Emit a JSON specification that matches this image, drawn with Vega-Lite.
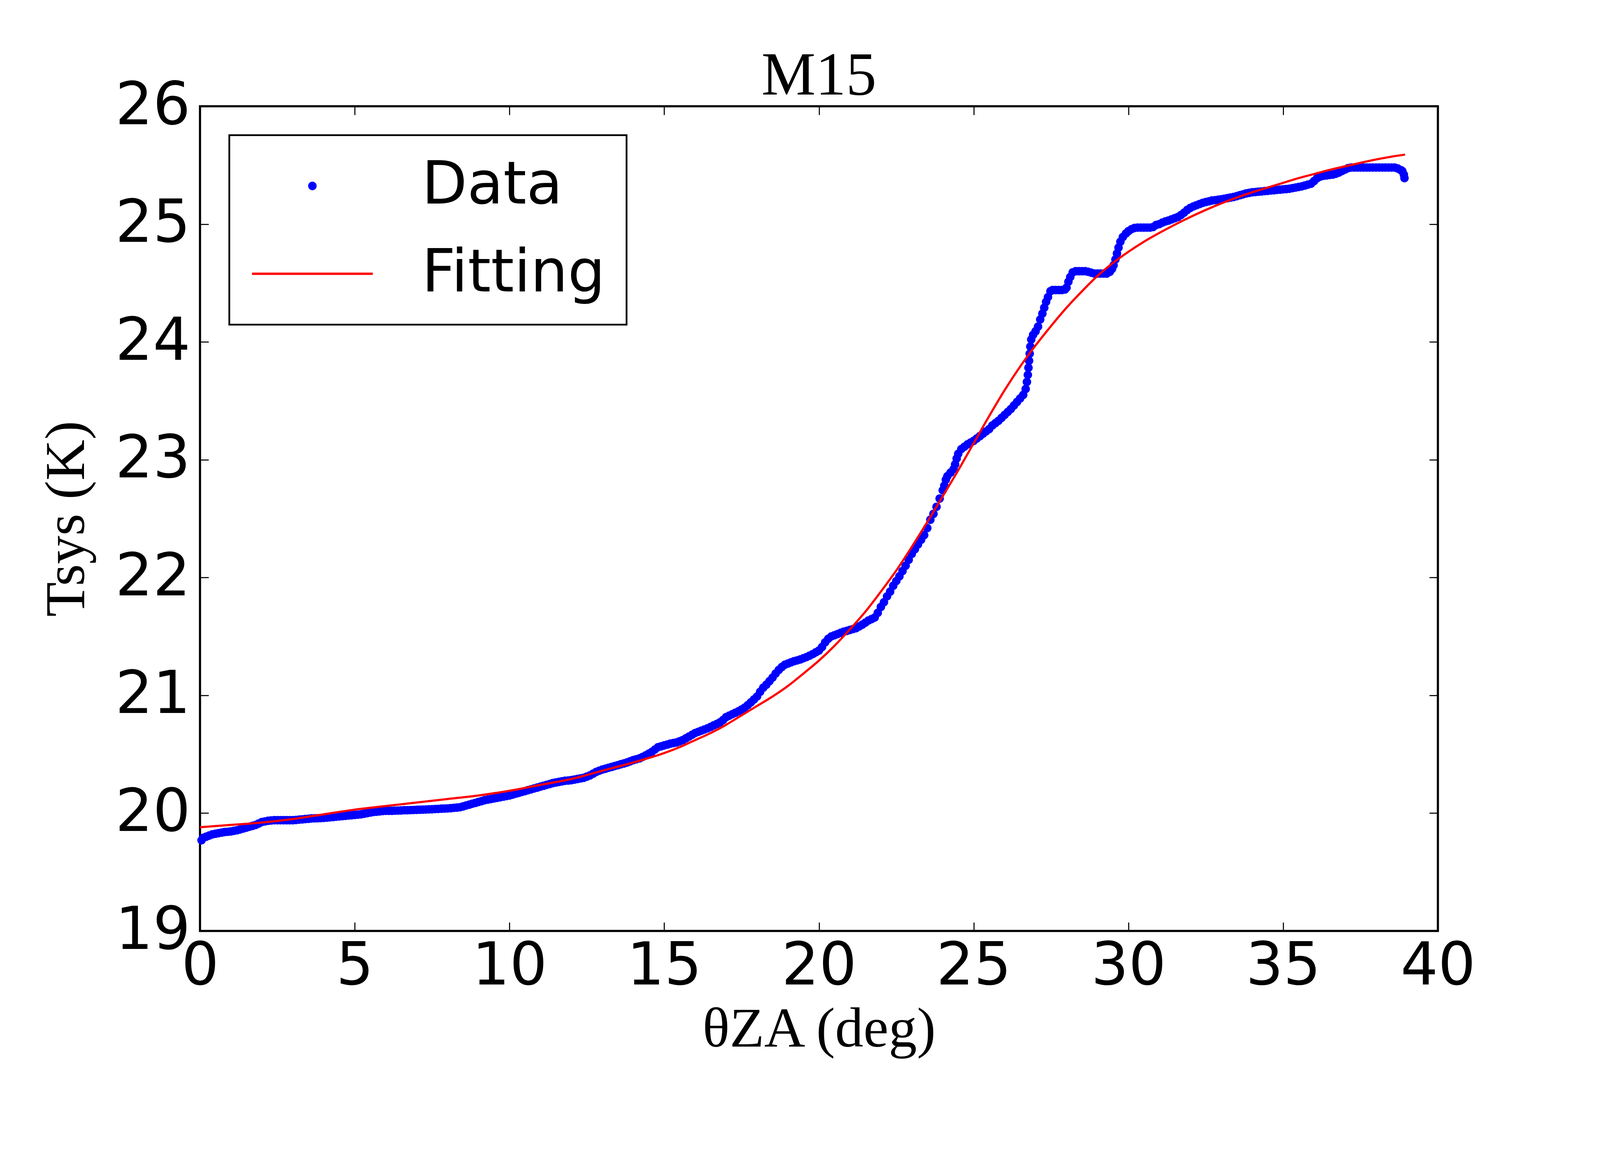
{
  "$schema": "https://vega.github.io/schema/vega-lite/v6.json",
  "description": "M15 system temperature against zenith angle, data and fitting",
  "autosize": {"type": "none"},
  "padding": {"left": 512, "top": 272, "right": 410, "bottom": 344},
  "width": 3169,
  "height": 2111,
  "background": "white",
  "title": {
    "text": "M15",
    "font": "Liberation Serif",
    "fontSize": 156,
    "fontWeight": "normal",
    "color": "black",
    "anchor": "middle",
    "baseline": "alphabetic",
    "offset": -202
  },
  "datasets": {
    "data": [
      {"za": 0.05, "tsys": 19.77}, {"za": 0.1, "tsys": 19.79}, {"za": 0.2, "tsys": 19.80}, {"za": 0.3, "tsys": 19.81},
      {"za": 0.4, "tsys": 19.82}, {"za": 0.5, "tsys": 19.825}, {"za": 0.6, "tsys": 19.83}, {"za": 0.7, "tsys": 19.835},
      {"za": 0.8, "tsys": 19.84}, {"za": 0.9, "tsys": 19.842}, {"za": 1.0, "tsys": 19.845}, {"za": 1.1, "tsys": 19.85},
      {"za": 1.2, "tsys": 19.855}, {"za": 1.3, "tsys": 19.862}, {"za": 1.4, "tsys": 19.87}, {"za": 1.5, "tsys": 19.877},
      {"za": 1.6, "tsys": 19.885}, {"za": 1.7, "tsys": 19.892}, {"za": 1.8, "tsys": 19.90}, {"za": 1.9, "tsys": 19.912},
      {"za": 2.0, "tsys": 19.925}, {"za": 2.1, "tsys": 19.93}, {"za": 2.2, "tsys": 19.935}, {"za": 2.3, "tsys": 19.938},
      {"za": 2.4, "tsys": 19.94}, {"za": 2.5, "tsys": 19.94}, {"za": 2.6, "tsys": 19.94}, {"za": 2.7, "tsys": 19.94},
      {"za": 2.8, "tsys": 19.94}, {"za": 2.9, "tsys": 19.94}, {"za": 3.0, "tsys": 19.94}, {"za": 3.1, "tsys": 19.942},
      {"za": 3.2, "tsys": 19.945}, {"za": 3.3, "tsys": 19.947}, {"za": 3.4, "tsys": 19.95}, {"za": 3.5, "tsys": 19.952},
      {"za": 3.6, "tsys": 19.955}, {"za": 3.7, "tsys": 19.956}, {"za": 3.8, "tsys": 19.957}, {"za": 3.9, "tsys": 19.958},
      {"za": 4.0, "tsys": 19.96}, {"za": 4.1, "tsys": 19.962}, {"za": 4.2, "tsys": 19.965}, {"za": 4.3, "tsys": 19.967},
      {"za": 4.4, "tsys": 19.97}, {"za": 4.5, "tsys": 19.972}, {"za": 4.6, "tsys": 19.975}, {"za": 4.7, "tsys": 19.977},
      {"za": 4.8, "tsys": 19.98}, {"za": 4.9, "tsys": 19.982}, {"za": 5.0, "tsys": 19.985}, {"za": 5.1, "tsys": 19.987},
      {"za": 5.2, "tsys": 19.99}, {"za": 5.3, "tsys": 19.995}, {"za": 5.4, "tsys": 20.0}, {"za": 5.5, "tsys": 20.005},
      {"za": 5.6, "tsys": 20.01}, {"za": 5.7, "tsys": 20.012}, {"za": 5.8, "tsys": 20.015}, {"za": 5.9, "tsys": 20.018},
      {"za": 6.0, "tsys": 20.02}, {"za": 6.1, "tsys": 20.02}, {"za": 6.2, "tsys": 20.02}, {"za": 6.3, "tsys": 20.021},
      {"za": 6.4, "tsys": 20.022}, {"za": 6.5, "tsys": 20.023}, {"za": 6.6, "tsys": 20.025}, {"za": 6.7, "tsys": 20.025},
      {"za": 6.8, "tsys": 20.026}, {"za": 6.9, "tsys": 20.027}, {"za": 7.0, "tsys": 20.028}, {"za": 7.1, "tsys": 20.029},
      {"za": 7.2, "tsys": 20.03}, {"za": 7.3, "tsys": 20.031}, {"za": 7.4, "tsys": 20.032}, {"za": 7.5, "tsys": 20.033},
      {"za": 7.6, "tsys": 20.035}, {"za": 7.7, "tsys": 20.036}, {"za": 7.8, "tsys": 20.038}, {"za": 7.9, "tsys": 20.039},
      {"za": 8.0, "tsys": 20.04}, {"za": 8.1, "tsys": 20.042}, {"za": 8.2, "tsys": 20.045}, {"za": 8.3, "tsys": 20.047},
      {"za": 8.4, "tsys": 20.05}, {"za": 8.5, "tsys": 20.057}, {"za": 8.6, "tsys": 20.065}, {"za": 8.7, "tsys": 20.072},
      {"za": 8.8, "tsys": 20.08}, {"za": 8.9, "tsys": 20.087}, {"za": 9.0, "tsys": 20.095}, {"za": 9.1, "tsys": 20.102},
      {"za": 9.2, "tsys": 20.11}, {"za": 9.3, "tsys": 20.115}, {"za": 9.4, "tsys": 20.12}, {"za": 9.5, "tsys": 20.125},
      {"za": 9.6, "tsys": 20.13}, {"za": 9.7, "tsys": 20.135}, {"za": 9.8, "tsys": 20.14}, {"za": 9.9, "tsys": 20.145},
      {"za": 10.0, "tsys": 20.15}, {"za": 10.1, "tsys": 20.157}, {"za": 10.2, "tsys": 20.165}, {"za": 10.3, "tsys": 20.172},
      {"za": 10.4, "tsys": 20.18}, {"za": 10.5, "tsys": 20.187}, {"za": 10.6, "tsys": 20.195}, {"za": 10.7, "tsys": 20.202},
      {"za": 10.8, "tsys": 20.21}, {"za": 10.9, "tsys": 20.217}, {"za": 11.0, "tsys": 20.225}, {"za": 11.1, "tsys": 20.232},
      {"za": 11.2, "tsys": 20.24}, {"za": 11.3, "tsys": 20.247}, {"za": 11.4, "tsys": 20.255}, {"za": 11.5, "tsys": 20.26},
      {"za": 11.6, "tsys": 20.265}, {"za": 11.7, "tsys": 20.27}, {"za": 11.8, "tsys": 20.275}, {"za": 11.9, "tsys": 20.277},
      {"za": 12.0, "tsys": 20.28}, {"za": 12.1, "tsys": 20.285}, {"za": 12.2, "tsys": 20.29}, {"za": 12.3, "tsys": 20.295},
      {"za": 12.4, "tsys": 20.30}, {"za": 12.5, "tsys": 20.31}, {"za": 12.6, "tsys": 20.32}, {"za": 12.7, "tsys": 20.335},
      {"za": 12.8, "tsys": 20.35}, {"za": 12.9, "tsys": 20.36}, {"za": 13.0, "tsys": 20.37}, {"za": 13.1, "tsys": 20.377},
      {"za": 13.2, "tsys": 20.385}, {"za": 13.3, "tsys": 20.392}, {"za": 13.4, "tsys": 20.40}, {"za": 13.5, "tsys": 20.407},
      {"za": 13.6, "tsys": 20.415}, {"za": 13.7, "tsys": 20.422}, {"za": 13.8, "tsys": 20.43}, {"za": 13.9, "tsys": 20.44},
      {"za": 14.0, "tsys": 20.45}, {"za": 14.1, "tsys": 20.457}, {"za": 14.2, "tsys": 20.465}, {"za": 14.3, "tsys": 20.477},
      {"za": 14.4, "tsys": 20.49}, {"za": 14.5, "tsys": 20.505}, {"za": 14.6, "tsys": 20.52}, {"za": 14.7, "tsys": 20.54},
      {"za": 14.8, "tsys": 20.56}, {"za": 14.9, "tsys": 20.567}, {"za": 15.0, "tsys": 20.575}, {"za": 15.1, "tsys": 20.582},
      {"za": 15.2, "tsys": 20.59}, {"za": 15.3, "tsys": 20.595}, {"za": 15.4, "tsys": 20.60}, {"za": 15.5, "tsys": 20.61},
      {"za": 15.6, "tsys": 20.62}, {"za": 15.7, "tsys": 20.635}, {"za": 15.8, "tsys": 20.65}, {"za": 15.9, "tsys": 20.665},
      {"za": 16.0, "tsys": 20.68}, {"za": 16.1, "tsys": 20.69}, {"za": 16.2, "tsys": 20.70}, {"za": 16.3, "tsys": 20.71},
      {"za": 16.4, "tsys": 20.72}, {"za": 16.5, "tsys": 20.732}, {"za": 16.6, "tsys": 20.745}, {"za": 16.7, "tsys": 20.757},
      {"za": 16.8, "tsys": 20.77}, {"za": 16.9, "tsys": 20.79}, {"za": 17.0, "tsys": 20.815}, {"za": 17.1, "tsys": 20.827},
      {"za": 17.2, "tsys": 20.84}, {"za": 17.3, "tsys": 20.852}, {"za": 17.4, "tsys": 20.865}, {"za": 17.5, "tsys": 20.88},
      {"za": 17.6, "tsys": 20.895}, {"za": 17.7, "tsys": 20.917}, {"za": 17.8, "tsys": 20.94}, {"za": 17.9, "tsys": 20.965},
      {"za": 18.0, "tsys": 20.99}, {"za": 18.1, "tsys": 21.03}, {"za": 18.2, "tsys": 21.065}, {"za": 18.3, "tsys": 21.09},
      {"za": 18.4, "tsys": 21.12}, {"za": 18.5, "tsys": 21.15}, {"za": 18.6, "tsys": 21.185}, {"za": 18.7, "tsys": 21.215},
      {"za": 18.8, "tsys": 21.24}, {"za": 18.9, "tsys": 21.26}, {"za": 19.0, "tsys": 21.27}, {"za": 19.1, "tsys": 21.28},
      {"za": 19.2, "tsys": 21.29}, {"za": 19.3, "tsys": 21.297}, {"za": 19.4, "tsys": 21.305}, {"za": 19.5, "tsys": 21.315},
      {"za": 19.6, "tsys": 21.325}, {"za": 19.7, "tsys": 21.337}, {"za": 19.8, "tsys": 21.35}, {"za": 19.9, "tsys": 21.365},
      {"za": 20.0, "tsys": 21.38}, {"za": 20.1, "tsys": 21.41}, {"za": 20.2, "tsys": 21.45}, {"za": 20.3, "tsys": 21.48},
      {"za": 20.4, "tsys": 21.50}, {"za": 20.5, "tsys": 21.51}, {"za": 20.6, "tsys": 21.52}, {"za": 20.7, "tsys": 21.53},
      {"za": 20.8, "tsys": 21.54}, {"za": 20.9, "tsys": 21.547}, {"za": 21.0, "tsys": 21.555}, {"za": 21.1, "tsys": 21.562},
      {"za": 21.2, "tsys": 21.57}, {"za": 21.3, "tsys": 21.585}, {"za": 21.4, "tsys": 21.60}, {"za": 21.5, "tsys": 21.617},
      {"za": 21.6, "tsys": 21.635}, {"za": 21.7, "tsys": 21.647}, {"za": 21.8, "tsys": 21.66}, {"za": 21.9, "tsys": 21.70},
      {"za": 22.0, "tsys": 21.75}, {"za": 22.1, "tsys": 21.79}, {"za": 22.2, "tsys": 21.84}, {"za": 22.3, "tsys": 21.88},
      {"za": 22.4, "tsys": 21.93}, {"za": 22.5, "tsys": 21.97}, {"za": 22.6, "tsys": 22.01}, {"za": 22.7, "tsys": 22.055},
      {"za": 22.8, "tsys": 22.10}, {"za": 22.9, "tsys": 22.15}, {"za": 23.0, "tsys": 22.20}, {"za": 23.1, "tsys": 22.24},
      {"za": 23.2, "tsys": 22.28}, {"za": 23.3, "tsys": 22.32}, {"za": 23.4, "tsys": 22.36}, {"za": 23.5, "tsys": 22.42},
      {"za": 23.6, "tsys": 22.49}, {"za": 23.7, "tsys": 22.54}, {"za": 23.8, "tsys": 22.60}, {"za": 23.9, "tsys": 22.67},
      {"za": 24.0, "tsys": 22.74}, {"za": 24.05, "tsys": 22.78}, {"za": 24.1, "tsys": 22.83}, {"za": 24.15, "tsys": 22.86},
      {"za": 24.25, "tsys": 22.89}, {"za": 24.35, "tsys": 22.92}, {"za": 24.4, "tsys": 22.96}, {"za": 24.45, "tsys": 23.01},
      {"za": 24.5, "tsys": 23.05}, {"za": 24.6, "tsys": 23.09}, {"za": 24.7, "tsys": 23.11}, {"za": 24.8, "tsys": 23.13},
      {"za": 24.9, "tsys": 23.145}, {"za": 25.0, "tsys": 23.16}, {"za": 25.1, "tsys": 23.18}, {"za": 25.2, "tsys": 23.20},
      {"za": 25.3, "tsys": 23.22}, {"za": 25.4, "tsys": 23.24}, {"za": 25.5, "tsys": 23.26}, {"za": 25.6, "tsys": 23.29},
      {"za": 25.7, "tsys": 23.31}, {"za": 25.8, "tsys": 23.33}, {"za": 25.9, "tsys": 23.355}, {"za": 26.0, "tsys": 23.38},
      {"za": 26.1, "tsys": 23.405}, {"za": 26.2, "tsys": 23.43}, {"za": 26.3, "tsys": 23.46}, {"za": 26.4, "tsys": 23.49},
      {"za": 26.5, "tsys": 23.52}, {"za": 26.6, "tsys": 23.55}, {"za": 26.68, "tsys": 23.60}, {"za": 26.72, "tsys": 23.66},
      {"za": 26.75, "tsys": 23.72}, {"za": 26.77, "tsys": 23.78}, {"za": 26.79, "tsys": 23.84}, {"za": 26.81, "tsys": 23.90},
      {"za": 26.83, "tsys": 23.96}, {"za": 26.86, "tsys": 24.02}, {"za": 26.92, "tsys": 24.06}, {"za": 27.0, "tsys": 24.09},
      {"za": 27.08, "tsys": 24.13}, {"za": 27.15, "tsys": 24.19}, {"za": 27.22, "tsys": 24.24}, {"za": 27.28, "tsys": 24.29},
      {"za": 27.34, "tsys": 24.34}, {"za": 27.4, "tsys": 24.38}, {"za": 27.48, "tsys": 24.43}, {"za": 27.55, "tsys": 24.44},
      {"za": 27.65, "tsys": 24.44}, {"za": 27.75, "tsys": 24.44}, {"za": 27.85, "tsys": 24.44}, {"za": 27.95, "tsys": 24.445},
      {"za": 28.0, "tsys": 24.46}, {"za": 28.06, "tsys": 24.51}, {"za": 28.12, "tsys": 24.55}, {"za": 28.2, "tsys": 24.59},
      {"za": 28.3, "tsys": 24.60}, {"za": 28.4, "tsys": 24.60}, {"za": 28.5, "tsys": 24.60}, {"za": 28.6, "tsys": 24.60},
      {"za": 28.7, "tsys": 24.595}, {"za": 28.8, "tsys": 24.587}, {"za": 28.9, "tsys": 24.58}, {"za": 29.0, "tsys": 24.58},
      {"za": 29.1, "tsys": 24.58}, {"za": 29.2, "tsys": 24.58}, {"za": 29.3, "tsys": 24.58}, {"za": 29.4, "tsys": 24.595},
      {"za": 29.47, "tsys": 24.62}, {"za": 29.52, "tsys": 24.65}, {"za": 29.58, "tsys": 24.70}, {"za": 29.63, "tsys": 24.75},
      {"za": 29.68, "tsys": 24.80}, {"za": 29.74, "tsys": 24.85}, {"za": 29.82, "tsys": 24.89}, {"za": 29.92, "tsys": 24.92},
      {"za": 30.0, "tsys": 24.94}, {"za": 30.1, "tsys": 24.957}, {"za": 30.2, "tsys": 24.967}, {"za": 30.3, "tsys": 24.97},
      {"za": 30.4, "tsys": 24.97}, {"za": 30.5, "tsys": 24.97}, {"za": 30.6, "tsys": 24.97}, {"za": 30.7, "tsys": 24.97},
      {"za": 30.8, "tsys": 24.975}, {"za": 30.9, "tsys": 24.993}, {"za": 31.0, "tsys": 25.0}, {"za": 31.1, "tsys": 25.013},
      {"za": 31.2, "tsys": 25.023}, {"za": 31.3, "tsys": 25.03}, {"za": 31.4, "tsys": 25.04}, {"za": 31.5, "tsys": 25.05},
      {"za": 31.6, "tsys": 25.06}, {"za": 31.7, "tsys": 25.077}, {"za": 31.8, "tsys": 25.097}, {"za": 31.9, "tsys": 25.12},
      {"za": 32.0, "tsys": 25.137}, {"za": 32.1, "tsys": 25.15}, {"za": 32.2, "tsys": 25.16}, {"za": 32.3, "tsys": 25.17},
      {"za": 32.4, "tsys": 25.18}, {"za": 32.5, "tsys": 25.187}, {"za": 32.6, "tsys": 25.193}, {"za": 32.7, "tsys": 25.20},
      {"za": 32.8, "tsys": 25.203}, {"za": 32.9, "tsys": 25.207}, {"za": 33.0, "tsys": 25.21}, {"za": 33.1, "tsys": 25.215},
      {"za": 33.2, "tsys": 25.22}, {"za": 33.3, "tsys": 25.225}, {"za": 33.4, "tsys": 25.23}, {"za": 33.5, "tsys": 25.237},
      {"za": 33.6, "tsys": 25.245}, {"za": 33.7, "tsys": 25.252}, {"za": 33.8, "tsys": 25.26}, {"za": 33.9, "tsys": 25.265},
      {"za": 34.0, "tsys": 25.27}, {"za": 34.1, "tsys": 25.272}, {"za": 34.2, "tsys": 25.275}, {"za": 34.3, "tsys": 25.277},
      {"za": 34.4, "tsys": 25.28}, {"za": 34.5, "tsys": 25.282}, {"za": 34.6, "tsys": 25.285}, {"za": 34.7, "tsys": 25.287},
      {"za": 34.8, "tsys": 25.29}, {"za": 34.9, "tsys": 25.292}, {"za": 35.0, "tsys": 25.295}, {"za": 35.1, "tsys": 25.297},
      {"za": 35.2, "tsys": 25.30}, {"za": 35.3, "tsys": 25.305}, {"za": 35.4, "tsys": 25.31}, {"za": 35.5, "tsys": 25.315},
      {"za": 35.6, "tsys": 25.32}, {"za": 35.7, "tsys": 25.327}, {"za": 35.8, "tsys": 25.335}, {"za": 35.9, "tsys": 25.343},
      {"za": 36.0, "tsys": 25.365}, {"za": 36.1, "tsys": 25.39}, {"za": 36.2, "tsys": 25.403}, {"za": 36.3, "tsys": 25.41},
      {"za": 36.4, "tsys": 25.413}, {"za": 36.5, "tsys": 25.417}, {"za": 36.6, "tsys": 25.42}, {"za": 36.7, "tsys": 25.427},
      {"za": 36.8, "tsys": 25.437}, {"za": 36.9, "tsys": 25.45}, {"za": 37.0, "tsys": 25.463}, {"za": 37.1, "tsys": 25.475},
      {"za": 37.2, "tsys": 25.48}, {"za": 37.3, "tsys": 25.48}, {"za": 37.4, "tsys": 25.48}, {"za": 37.5, "tsys": 25.48},
      {"za": 37.6, "tsys": 25.48}, {"za": 37.7, "tsys": 25.48}, {"za": 37.8, "tsys": 25.48}, {"za": 37.9, "tsys": 25.48},
      {"za": 38.0, "tsys": 25.48}, {"za": 38.1, "tsys": 25.48}, {"za": 38.2, "tsys": 25.48}, {"za": 38.3, "tsys": 25.48},
      {"za": 38.4, "tsys": 25.48}, {"za": 38.5, "tsys": 25.48}, {"za": 38.6, "tsys": 25.48}, {"za": 38.7, "tsys": 25.472},
      {"za": 38.8, "tsys": 25.458}, {"za": 38.85, "tsys": 25.45}, {"za": 38.9, "tsys": 25.42}, {"za": 38.92, "tsys": 25.39}
    ],
    "fit": [
      {"za": 0, "tsys": 19.88}, {"za": 1, "tsys": 19.90}, {"za": 2, "tsys": 19.92}, {"za": 3, "tsys": 19.95},
      {"za": 4, "tsys": 19.99}, {"za": 5, "tsys": 20.03}, {"za": 6, "tsys": 20.06}, {"za": 7, "tsys": 20.09},
      {"za": 8, "tsys": 20.12}, {"za": 9, "tsys": 20.15}, {"za": 10, "tsys": 20.19}, {"za": 11, "tsys": 20.24},
      {"za": 12, "tsys": 20.29}, {"za": 13, "tsys": 20.36}, {"za": 14, "tsys": 20.43}, {"za": 15, "tsys": 20.51},
      {"za": 15.5, "tsys": 20.56}, {"za": 16, "tsys": 20.62}, {"za": 16.5, "tsys": 20.68}, {"za": 17, "tsys": 20.75},
      {"za": 17.5, "tsys": 20.83}, {"za": 18, "tsys": 20.91}, {"za": 18.5, "tsys": 20.99}, {"za": 19, "tsys": 21.08},
      {"za": 19.5, "tsys": 21.185}, {"za": 20, "tsys": 21.295}, {"za": 20.5, "tsys": 21.42}, {"za": 21, "tsys": 21.56},
      {"za": 21.5, "tsys": 21.71}, {"za": 22, "tsys": 21.88}, {"za": 22.5, "tsys": 22.06}, {"za": 23, "tsys": 22.26},
      {"za": 23.5, "tsys": 22.47}, {"za": 24, "tsys": 22.69}, {"za": 24.5, "tsys": 22.91}, {"za": 25, "tsys": 23.14},
      {"za": 25.5, "tsys": 23.37}, {"za": 26, "tsys": 23.59}, {"za": 26.5, "tsys": 23.79}, {"za": 27, "tsys": 23.97},
      {"za": 27.5, "tsys": 24.135}, {"za": 28, "tsys": 24.29}, {"za": 28.5, "tsys": 24.43}, {"za": 29, "tsys": 24.56},
      {"za": 29.5, "tsys": 24.67}, {"za": 30, "tsys": 24.765}, {"za": 30.5, "tsys": 24.85}, {"za": 31, "tsys": 24.925},
      {"za": 31.5, "tsys": 24.995}, {"za": 32, "tsys": 25.06}, {"za": 32.5, "tsys": 25.12}, {"za": 33, "tsys": 25.175},
      {"za": 33.5, "tsys": 25.225}, {"za": 34, "tsys": 25.27}, {"za": 34.5, "tsys": 25.31}, {"za": 35, "tsys": 25.35},
      {"za": 35.5, "tsys": 25.39}, {"za": 36, "tsys": 25.425}, {"za": 36.5, "tsys": 25.46}, {"za": 37, "tsys": 25.49},
      {"za": 37.5, "tsys": 25.52}, {"za": 38, "tsys": 25.548}, {"za": 38.5, "tsys": 25.572}, {"za": 38.94, "tsys": 25.59}
    ]
  },
  "layer": [
    {
      "data": {"name": "data"},
      "transform": [{"calculate": "'Data'", "as": "series"}],
      "mark": {"type": "point", "filled": true, "size": 8264, "opacity": 1, "strokeWidth": 0},
      "encoding": {
        "x": {
          "field": "za", "type": "quantitative",
          "scale": {"domain": [0, 40], "nice": false, "zero": false},
          "axis": {"orient": "bottom", "title": "θZA (deg)", "values": [0, 5, 10, 15, 20, 25, 30, 35, 40], "labelPadding": 39, "titlePadding": 14}
        },
        "y": {
          "field": "tsys", "type": "quantitative",
          "scale": {"domain": [19, 26], "nice": false, "zero": false},
          "axis": {"orient": "left", "title": "Tsys (K)", "values": [19, 20, 21, 22, 23, 24, 25, 26], "labelPadding": 47, "titlePadding": 50}
        },
        "color": {
          "field": "series", "type": "nominal",
          "scale": {"domain": ["Data", "Fitting"], "range": ["#0000ff", "#ff0000"]},
          "legend": {"title": null, "orient": "none", "legendX": 75, "legendY": 74}
        },
        "shape": {
          "field": "series", "type": "nominal",
          "scale": {
            "domain": ["Data", "Fitting"],
            "range": [
              "M-0.24,0A0.24,0.24,0,1,0,0.24,0A0.24,0.24,0,1,0,-0.24,0Z",
              "M-3.4,-0.065L3.4,-0.065L3.4,0.065L-3.4,0.065Z"
            ]
          },
          "legend": {"title": null, "orient": "none", "legendX": 75, "legendY": 74}
        }
      }
    },
    {
      "data": {"name": "fit"},
      "mark": {"type": "line", "color": "#ff0000", "strokeWidth": 5.5, "interpolate": "monotone"},
      "encoding": {
        "x": {
          "field": "za", "type": "quantitative",
          "axis": {"orient": "top", "title": null, "labels": false, "values": [0, 5, 10, 15, 20, 25, 30, 35, 40]}
        },
        "y": {
          "field": "tsys", "type": "quantitative",
          "axis": {"orient": "right", "title": null, "labels": false, "values": [19, 20, 21, 22, 23, 24, 25, 26]}
        }
      }
    }
  ],
  "resolve": {"axis": {"x": "independent", "y": "independent"}},
  "config": {
    "view": {"stroke": "black", "strokeWidth": 5.5, "fill": "white"},
    "axis": {
      "grid": false,
      "domain": false,
      "ticks": true,
      "tickSize": -22,
      "tickWidth": 2.7,
      "tickColor": "black",
      "labelFont": "DejaVu Sans",
      "labelFontSize": 151,
      "labelColor": "black",
      "labelLimit": 0,
      "labelFlush": false,
      "labelOverlap": false,
      "minExtent": 0,
      "maxExtent": 2000,
      "titleFont": "Liberation Serif",
      "titleFontSize": 145,
      "titleFontWeight": "normal",
      "titleColor": "black"
    },
    "legend": {
      "padding": 54.5,
      "rowPadding": 72.7,
      "symbolSize": 8264,
      "symbolOffset": 82.7,
      "symbolStrokeWidth": 0,
      "symbolOpacity": 1,
      "labelOffset": 204.5,
      "labelFont": "DejaVu Sans",
      "labelFontSize": 151,
      "labelColor": "black",
      "labelLimit": 0,
      "strokeColor": "black",
      "strokeWidth": 4.5,
      "fillColor": "white"
    }
  }
}
